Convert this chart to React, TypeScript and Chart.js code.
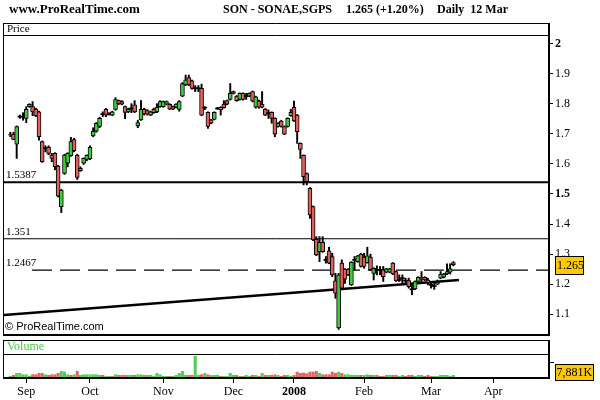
import React, { useEffect, useRef } from "react";
import { Chart, registerables } from "chart.js";

Chart.register(...registerables);

// ---- data (daily candles, 27 Aug 2007 .. 12 Mar 2008, index 1..140) ----
const opens = [1.695,1.699,1.665,1.757,1.757,1.751,1.790,1.790,1.781,1.773,
1.674,1.652,1.655,1.629,1.635,1.593,1.458,1.568,1.602,1.627,
1.681,1.629,1.585,1.602,1.615,1.616,1.693,1.709,1.724,1.765,
1.781,1.766,1.762,1.781,1.810,1.807,1.790,1.773,1.784,1.796,
1.726,1.746,1.781,1.777,1.762,1.781,1.773,1.790,1.790,1.798,
1.798,1.790,1.788,1.781,1.825,1.862,1.887,1.876,1.851,1.851,
1.851,1.787,1.771,1.746,1.748,1.784,1.788,1.799,1.810,1.814,
1.840,1.825,1.814,1.834,1.825,1.825,1.840,1.788,1.809,1.798,
1.781,1.768,1.771,1.751,1.724,1.742,1.724,1.724,1.760,1.788,
1.762,1.668,1.628,1.568,1.519,1.458,1.349,1.308,1.339,1.281,
1.311,1.292,1.211,1.055,1.270,1.250,1.250,1.198,1.281,1.275,
1.300,1.289,1.272,1.290,1.236,1.248,1.248,1.248,1.240,1.240,
1.270,1.242,1.214,1.220,1.212,1.212,1.183,1.184,1.209,1.223,
1.223,1.214,1.198,1.194,1.207,1.220,1.223,1.234,1.240,1.272];

const closes = [1.697,1.681,1.724,1.757,1.757,1.781,1.798,1.773,1.759,1.690,
1.607,1.652,1.635,1.618,1.591,1.493,1.513,1.629,1.635,1.674,
1.644,1.555,1.577,1.618,1.628,1.655,1.709,1.735,1.751,1.765,
1.762,1.766,1.773,1.814,1.799,1.798,1.771,1.781,1.784,1.773,
1.737,1.781,1.766,1.765,1.773,1.770,1.788,1.807,1.807,1.807,
1.782,1.782,1.799,1.807,1.867,1.879,1.862,1.851,1.851,1.851,
1.762,1.787,1.724,1.735,1.771,1.784,1.779,1.787,1.798,1.834,
1.834,1.810,1.834,1.814,1.825,1.834,1.808,1.823,1.788,1.788,
1.762,1.768,1.751,1.699,1.735,1.724,1.699,1.751,1.771,1.743,
1.707,1.648,1.557,1.541,1.430,1.347,1.297,1.339,1.308,1.281,
1.270,1.231,1.170,1.231,1.187,1.217,1.231,1.273,1.281,1.294,
1.259,1.259,1.294,1.248,1.253,1.248,1.248,1.225,1.251,1.251,
1.234,1.211,1.214,1.220,1.212,1.192,1.183,1.209,1.223,1.217,
1.214,1.205,1.198,1.194,1.200,1.234,1.234,1.242,1.251,1.265];

const highs = [1.705,1.705,1.726,1.762,1.770,1.790,1.800,1.807,1.785,1.775,
1.676,1.660,1.660,1.635,1.637,1.595,1.515,1.632,1.637,1.688,
1.685,1.632,1.590,1.620,1.630,1.660,1.720,1.737,1.755,1.773,
1.784,1.770,1.775,1.820,1.812,1.810,1.792,1.785,1.800,1.810,
1.745,1.810,1.785,1.780,1.775,1.785,1.800,1.810,1.809,1.809,
1.800,1.792,1.800,1.810,1.870,1.895,1.895,1.878,1.860,1.860,
1.865,1.790,1.773,1.748,1.773,1.788,1.790,1.810,1.812,1.867,
1.842,1.827,1.836,1.836,1.834,1.836,1.842,1.825,1.812,1.840,
1.784,1.779,1.773,1.753,1.737,1.745,1.726,1.753,1.781,1.809,
1.764,1.670,1.630,1.570,1.521,1.460,1.358,1.358,1.358,1.292,
1.323,1.303,1.236,1.236,1.281,1.252,1.252,1.275,1.292,1.296,
1.302,1.303,1.323,1.300,1.255,1.261,1.259,1.259,1.253,1.253,
1.272,1.244,1.231,1.231,1.220,1.220,1.198,1.211,1.225,1.242,
1.225,1.220,1.209,1.209,1.214,1.242,1.236,1.268,1.268,1.275];

const lows = [1.690,1.680,1.618,1.751,1.745,1.737,1.788,1.760,1.757,1.679,
1.605,1.640,1.630,1.607,1.580,1.490,1.438,1.565,1.590,1.625,
1.640,1.548,1.575,1.598,1.610,1.614,1.690,1.705,1.720,1.757,
1.757,1.762,1.760,1.778,1.797,1.796,1.750,1.770,1.770,1.770,
1.720,1.744,1.762,1.762,1.760,1.768,1.770,1.788,1.788,1.796,
1.780,1.780,1.786,1.775,1.823,1.860,1.860,1.848,1.840,1.840,
1.760,1.780,1.718,1.733,1.746,1.781,1.762,1.785,1.796,1.812,
1.832,1.808,1.812,1.812,1.814,1.823,1.806,1.785,1.785,1.786,
1.760,1.751,1.735,1.690,1.722,1.722,1.697,1.722,1.758,1.741,
1.668,1.618,1.530,1.530,1.419,1.345,1.295,1.275,1.306,1.270,
1.268,1.225,1.153,1.050,1.185,1.203,1.229,1.196,1.248,1.273,
1.257,1.253,1.270,1.246,1.214,1.231,1.231,1.209,1.238,1.238,
1.232,1.209,1.209,1.201,1.203,1.187,1.165,1.182,1.207,1.203,
1.212,1.198,1.187,1.183,1.198,1.218,1.221,1.232,1.234,1.261];

// volume in thousands of shares
const volumes = [4900,7900,13800,13800,9800,9800,4900,9800,9800,13800,
13800,9800,7900,9800,9800,13800,19700,17700,9800,7900,
9800,19700,7900,9800,9800,9800,9800,9800,7900,7900,
4900,4900,4900,9800,7900,7900,7900,7900,7900,7900,
9800,9800,7900,7900,7900,4900,13800,9800,4900,4900,
4900,4900,7900,13800,19700,7900,7900,7900,64000,7900,
9800,13800,9800,7900,7900,7900,4900,4900,4900,13800,
7900,7900,4900,4900,7900,4900,7900,7900,4900,13800,
7900,7900,7900,9800,7900,4900,7900,7900,4900,7900,
17700,13800,14800,12800,17700,17700,19700,13800,9800,9800,
9800,17700,13800,17700,13800,9800,9800,7900,7900,7900,
7900,7900,9800,7900,7900,7900,4900,4900,7900,7900,
7900,7900,4900,7900,4900,7900,7900,4900,7900,7900,
4900,7900,4900,4900,4900,7900,7900,7900,4900,7881];

// 1 = up day (green volume), 0 = down day (red volume)
const volumeUp = [1,0,1,1,1,1,1,0,0,0,
0,1,0,0,0,0,1,1,1,0,
1,0,1,1,1,1,1,1,1,0,
1,1,0,1,0,0,0,1,1,0,
1,1,0,1,1,1,1,1,1,1,
0,1,1,1,1,1,0,0,1,1,
0,1,0,1,1,1,0,1,1,1,
1,0,1,0,1,1,0,1,0,1,
0,1,0,0,1,0,0,1,1,0,
0,0,0,0,0,0,0,1,0,0,
0,0,0,1,0,1,1,1,1,1,
0,1,1,0,1,0,0,0,1,1,
0,0,1,1,0,0,0,1,1,1,
0,0,0,1,1,1,1,1,1,1];

const monthTickIdx = [6, 26, 49, 71, 90, 112, 133, 152.5];
const monthLabels = ["Sep", "Oct", "Nov", "Dec", "2008", "Feb", "Mar", "Apr"];
const priceTicks = [1.1, 1.2, 1.3, 1.4, 1.5, 1.6, 1.7, 1.8, 1.9, 2.0];
const boldPriceTicks = [1.5, 2.0];

const solidLevels = [1.5387, 1.351];
const solidLevelWidths = [2, 1];
const dashedLevel = 1.2467;
const dashedStartIdx = 7.8;
const trendX = [-0.98, 141.75];
const trendY = [1.0977, 1.214];

const lastPrice = 1.265;
const lastVolumeLabel = "7,881K";

const X_MIN = -0.98;
const X_MAX = 170;
const Y_MIN = 0.8883;
const Y_MAX = 2.0249;
const VOL_MAX = 1010600;

const GREEN = "#3fcc3f";
const RED = "#e06060";
const VOL_GREEN = "#55cc55";
const VOL_RED = "#e06666";
const SERIF = '"Liberation Serif", "Times New Roman", serif';
const SANS = '"Liberation Sans", Arial, sans-serif';

const isDoji = (i: number) => Math.abs(opens[i] - closes[i]) < 0.002;

const decorPlugin = {
  id: "decor",
  beforeDraw(chart: any) {
    const ctx = chart.ctx;
    ctx.save();
    ctx.fillStyle = "#fff";
    ctx.fillRect(0, 0, chart.width, chart.height);
    ctx.fillStyle = "#000";
    ctx.textBaseline = "middle";
    ctx.textAlign = "left";
    ctx.font = `bold 13px ${SERIF}`;
    ctx.fillText("www.ProRealTime.com", 9, 10);
    ctx.font = `bold 12px ${SERIF}`;
    ctx.fillText("SON - SONAE,SGPS", 223, 10);
    ctx.fillText("1.265 (+1.20%)", 346, 10);
    ctx.fillText("Daily  12 Mar", 437, 10);
    ctx.restore();
  },
  afterDatasetsDraw(chart: any) {
    const ctx = chart.ctx;
    const ys = chart.scales.y;
    const area = chart.chartArea;
    const L = 3.5;
    const R = area.right;
    ctx.save();
    ctx.strokeStyle = "#000";
    const line = (x1: number, y1: number, x2: number, y2: number, w: number) => {
      ctx.lineWidth = w;
      ctx.beginPath();
      ctx.moveTo(x1, y1);
      ctx.lineTo(x2, y2);
      ctx.stroke();
    };
    // price panel
    line(L, 23.5, R, 23.5, 1);
    line(L, 35.5, R, 35.5, 1);
    line(L, 23, L, 335, 1);
    line(R, 23, R, 336, 2);
    line(3, 335, R + 1, 335, 2);
    // volume panel
    line(L, 340.5, R, 340.5, 1);
    line(L, 354.5, R, 354.5, 1);
    line(L, 340, L, area.bottom, 1);
    line(R, 340, R, area.bottom + 1, 2);
    line(3, area.bottom, R + 1, area.bottom, 2);
    line(R, 362.5, R + 5, 362.5, 1);

    ctx.textBaseline = "middle";
    ctx.textAlign = "left";
    ctx.fillStyle = "#000";
    ctx.font = `11px ${SERIF}`;
    ctx.fillText("Price", 7, 29.5);
    ctx.fillStyle = "#44cc44";
    ctx.font = `12px ${SERIF}`;
    ctx.fillText("Volume", 7, 347);

    ctx.fillStyle = "#000";
    ctx.font = `11px ${SERIF}`;
    [...solidLevels, dashedLevel].forEach((lv) => {
      const y = ys.getPixelForValue(lv);
      ctx.fillText(String(lv), 6, y - 7);
    });
    ctx.font = `11px ${SANS}`;
    ctx.fillText("\u00A9 ProRealTime.com", 5, 327);
    ctx.restore();
  },
  afterDraw(chart: any) {
    const ctx = chart.ctx;
    const ys = chart.scales.y;
    ctx.save();
    const y = Math.round(ys.getPixelForValue(lastPrice));
    ctx.fillStyle = "#ffc800";
    ctx.fillRect(555, y - 9, 28, 18);
    ctx.strokeStyle = "#000";
    ctx.lineWidth = 1;
    ctx.strokeRect(555.5, y - 8.5, 28, 18);
    ctx.fillStyle = "#000";
    ctx.textBaseline = "middle";
    ctx.textAlign = "left";
    ctx.font = `12px ${SERIF}`;
    ctx.fillText(String(lastPrice), 557, y + 0.5);

    ctx.fillStyle = "#ffc800";
    ctx.fillRect(555, 364, 38, 16);
    ctx.strokeRect(555.5, 364.5, 38, 16);
    ctx.fillStyle = "#000";
    ctx.fillText(lastVolumeLabel, 556.5, 373);
    ctx.restore();
  },
};

export default function App() {
  const canvasRef = useRef<HTMLCanvasElement | null>(null);

  useEffect(() => {
    const canvas = canvasRef.current;
    if (!canvas) return;
    const idx = opens.map((_, i) => i + 1);

    const bodies = idx.map((x, i) => {
      if (isDoji(i)) {
        const m = opens[i];
        return { x, y: [m - 0.0017, m + 0.0017] };
      }
      return { x, y: [opens[i], closes[i]] };
    });
    const wicks = idx.map((x, i) => ({ x, y: [lows[i], highs[i]] }));
    const vols = idx.map((x, i) => ({ x, y: volumes[i] }));

    const levelSets = solidLevels.map((lv, k) => ({
      type: "line",
      data: [{ x: X_MIN, y: lv }, { x: X_MAX, y: lv }],
      borderColor: "#000",
      borderWidth: solidLevelWidths[k],
      pointRadius: 0,
      yAxisID: "y",
      order: 2,
    }));

    const chart = new Chart(canvas, {
      type: "bar",
      data: {
        datasets: [
          {
            type: "bar",
            data: bodies,
            yAxisID: "y",
            grouped: false,
            barThickness: 4,
            borderSkipped: false,
            borderColor: "#000",
            borderWidth: (c: any) => (isDoji(c.dataIndex) ? 0 : 1),
            backgroundColor: (c: any) =>
              isDoji(c.dataIndex) ? "#000" : closes[c.dataIndex] >= opens[c.dataIndex] ? GREEN : RED,
            order: 0,
          },
          {
            type: "bar",
            data: wicks,
            yAxisID: "y",
            grouped: false,
            barThickness: 1.3,
            borderWidth: 0,
            backgroundColor: "#000",
            order: 1,
          },
          ...levelSets,
          {
            type: "line",
            data: [{ x: dashedStartIdx, y: dashedLevel }, { x: X_MAX, y: dashedLevel }],
            borderColor: "#000",
            borderWidth: 1.2,
            borderDash: [20, 8],
            pointRadius: 0,
            yAxisID: "y",
            order: 2,
          },
          {
            type: "line",
            data: trendX.map((x, k) => ({ x, y: trendY[k] })),
            borderColor: "#000",
            borderWidth: 2.5,
            pointRadius: 0,
            yAxisID: "y",
            order: 2,
          },
          {
            type: "bar",
            data: vols,
            yAxisID: "yv",
            grouped: false,
            barThickness: 2.4,
            borderWidth: 0,
            backgroundColor: volumeUp.map((u) => (u ? VOL_GREEN : VOL_RED)),
            order: 3,
          },
        ] as any,
      },
      options: {
        responsive: false,
        maintainAspectRatio: false,
        animation: false,
        devicePixelRatio: 1,
        events: [],
        layout: { autoPadding: false, padding: { left: 4, top: 36, right: 0, bottom: 0 } },
        plugins: { legend: { display: false }, tooltip: { enabled: false }, title: { display: false } },
        scales: {
          x: {
            type: "linear",
            position: "bottom",
            min: X_MIN,
            max: X_MAX,
            offset: false,
            afterFit: (s: any) => {
              s.height = 22;
            },
            afterBuildTicks: (s: any) => {
              s.ticks = monthTickIdx.map((v) => ({ value: v }));
            },
            ticks: {
              autoSkip: false,
              maxRotation: 0,
              minRotation: 0,
              padding: 2,
              color: "#000",
              font: (c: any) => ({
                family: SERIF,
                size: 12,
                weight: c.tick && monthLabels[monthTickIdx.indexOf(c.tick.value)] === "2008" ? "bold" : "normal",
              }),
              callback: (v: any) => {
                const k = monthTickIdx.indexOf(Number(v));
                return k >= 0 ? monthLabels[k] : "";
              },
            },
            grid: { drawOnChartArea: false, drawTicks: true, tickLength: 5, color: "#000", lineWidth: 1, offset: false },
            border: { display: false },
          },
          y: {
            type: "linear",
            position: "right",
            min: Y_MIN,
            max: Y_MAX,
            afterFit: (s: any) => {
              s.width = 51;
            },
            afterBuildTicks: (s: any) => {
              s.ticks = priceTicks.map((v) => ({ value: v }));
            },
            ticks: {
              padding: 2,
              color: "#000",
              font: (c: any) => ({
                family: SERIF,
                size: 12,
                weight: c.tick && boldPriceTicks.some((b) => Math.abs(b - c.tick.value) < 1e-6) ? "bold" : "normal",
              }),
              callback: (v: any) => String(Math.round(Number(v) * 10) / 10),
            },
            grid: { drawOnChartArea: false, drawTicks: true, tickLength: 4, color: "#000", lineWidth: 1 },
            border: { display: false },
          },
          yv: {
            type: "linear",
            display: false,
            min: 0,
            max: VOL_MAX,
          },
        },
      } as any,
      plugins: [decorPlugin],
    });

    return () => chart.destroy();
  }, []);

  return (
    <div style={{ position: "fixed", left: 0, top: 0, width: 600, height: 400, background: "#fff" }}>
      <canvas ref={canvasRef} width={600} height={400} style={{ display: "block", width: 600, height: 400 }} />
    </div>
  );
}
